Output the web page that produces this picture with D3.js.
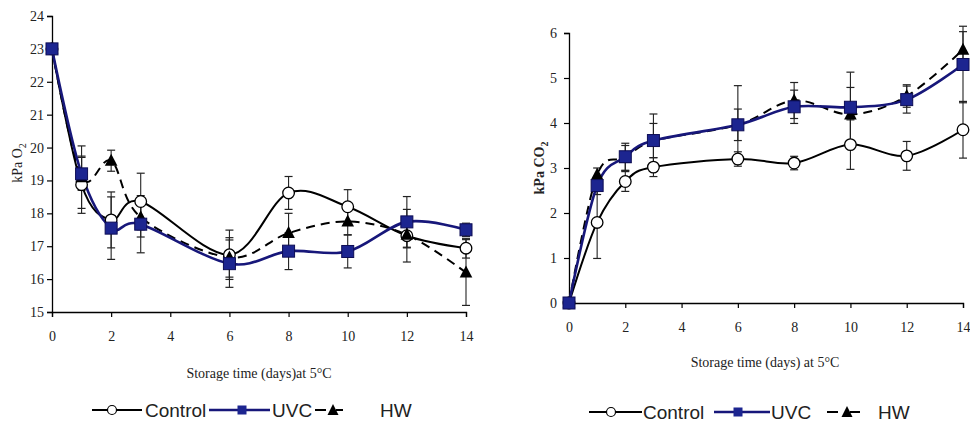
<!DOCTYPE html>
<html><head><meta charset="utf-8">
<script src="https://cdn.jsdelivr.net/npm/d3@7"></script>
<style>body{margin:0;background:#fff}svg{display:block}</style>
</head><body>
<svg id="c" width="970" height="425"></svg>
<script>
const days = [0, 1, 2, 3, 6, 8, 10, 12, 14];
const xTicks = [0, 2, 4, 6, 8, 10, 12, 14];
const o2Ticks = [15, 16, 17, 18, 19, 20, 21, 22, 23, 24];
const co2Ticks = [0, 1, 2, 3, 4, 5, 6];
const seriesNames = ["Control", "UVC", "HW"];

const o2Control = [23, 18.87, 17.8, 18.36, 16.74, 18.62, 18.2, 17.32, 16.94];
const o2ControlErr = [0, 0.87, 0.85, 0.86, 0.75, 0.5, 0.52, 0.8, 0.3];
const o2UVC = [23, 19.2, 17.55, 17.67, 16.47, 16.85, 16.84, 17.74, 17.5];
const o2UVCErr = [0, 0.5, 0.95, 0.87, 0.72, 0.56, 0.5, 0.77, 0.2];
const o2HW = [23, 19.1, 19.6, 17.88, 16.66, 17.4, 17.75, 17.35, 16.2];
const o2HWErr = [0, 0.95, 0.32, 0.6, 0.6, 0.6, 0.4, 0.4, 1.0];

const co2Control = [0, 1.79, 2.7, 3.02, 3.2, 3.11, 3.52, 3.27, 3.85];
const co2ControlErr = [0, 0.8, 0.22, 0.21, 0.16, 0.15, 0.55, 0.32, 0.63];
const co2UVC = [0, 2.61, 3.25, 3.61, 3.96, 4.36, 4.35, 4.52, 5.3];
const co2UVCErr = [0, 0.2, 0.3, 0.38, 0.87, 0.37, 0.78, 0.3, 0.85];
const co2HW = [0, 2.85, 3.22, 3.6, 3.96, 4.5, 4.19, 4.6, 5.63];
const co2HWErr = [0, 0.15, 0.28, 0.6, 0.35, 0.4, 0.6, 0.25, 0.4];

const svg = d3.select("#c");
const NAVY = "#17177a";
const SQFILL = "#1c2590";
const serif = "'Liberation Serif','Times New Roman',serif";
const sans = "'Liberation Sans',Arial,sans-serif";

function panel(cfg) {
  const x = d3.scaleLinear().domain([0, 14]).range(cfg.xr);
  const y = d3.scaleLinear().domain(cfg.yd).range(cfg.yr);
  const g = svg.append("g");

  const ya = g.append("g").attr("transform", `translate(${cfg.xr[0]},0)`)
    .call(d3.axisLeft(y).tickValues(cfg.yTicks).tickSize(5).tickPadding(cfg.yPad).tickFormat(d3.format("d")));
  const xa = g.append("g").attr("transform", `translate(0,${cfg.yr[0]})`)
    .call(d3.axisBottom(x).tickValues(xTicks).tickSize(5).tickPadding(cfg.xPad).tickFormat(d3.format("d")));
  [ya, xa].forEach(a => {
    a.select(".domain").attr("stroke", "#000").attr("stroke-width", 1.3);
    a.selectAll(".tick line").attr("stroke", "#000").attr("stroke-width", 1.2);
    a.selectAll("text").attr("font-family", serif).attr("font-size", 14).attr("fill", "#222");
  });

  const yl = g.append("text").attr("transform", `translate(${cfg.ylx},${cfg.yly}) rotate(-90)`)
    .attr("text-anchor", "middle").attr("font-family", serif).attr("font-size", 14)
    .attr("font-weight", cfg.ylBold ? "bold" : "normal").attr("fill", "#222");
  yl.append("tspan").text(cfg.ylab);
  yl.append("tspan").attr("dy", 4).attr("font-size", 10).text("2");

  g.append("text").attr("x", cfg.xlx).attr("y", cfg.xly).attr("text-anchor", "middle")
    .attr("font-family", serif).attr("font-size", 14).attr("fill", "#222").text(cfg.xlab);

  const series = [
    {name: "Control", v: cfg.data[0], e: cfg.err[0], color: "#000", w: 2, dash: null},
    {name: "HW", v: cfg.data[2], e: cfg.err[2], color: "#000", w: 2, dash: "9,6"},
    {name: "UVC", v: cfg.data[1], e: cfg.err[1], color: NAVY, w: 2.6, dash: null}
  ];

  series.forEach(s => {
    const eb = g.append("g");
    days.forEach((d, i) => {
      if (!s.e[i]) return;
      const xx = x(d), y1 = y(s.v[i] + s.e[i]), y2 = y(s.v[i] - s.e[i]);
      eb.append("line").attr("x1", xx).attr("x2", xx).attr("y1", y1).attr("y2", y2)
        .attr("stroke", "#222").attr("stroke-width", 1.1);
      [y1, y2].forEach(yy => eb.append("line").attr("x1", xx - 4).attr("x2", xx + 4)
        .attr("y1", yy).attr("y2", yy).attr("stroke", "#222").attr("stroke-width", 1.2));
    });
  });

  const line = d3.line().x((d, i) => x(days[i])).y(d => y(d)).curve(d3.curveCardinal.tension(0));
  series.forEach(s => {
    g.append("path").attr("d", line(s.v)).attr("fill", "none").attr("stroke", s.color)
      .attr("stroke-width", s.w).attr("stroke-dasharray", s.dash);
  });

  series.forEach(s => {
    days.forEach((d, i) => {
      const xx = x(d), yy = y(s.v[i]);
      if (s.name === "Control") {
        g.append("circle").attr("cx", xx).attr("cy", yy).attr("r", 5.8)
          .attr("fill", "#fff").attr("stroke", "#000").attr("stroke-width", 1.3);
      } else if (s.name === "HW") {
        g.append("path").attr("transform", `translate(${xx},${yy})`)
          .attr("d", "M0,-7L6.3,5L-6.3,5Z").attr("fill", "#000");
      } else {
        g.append("rect").attr("x", xx - 6).attr("y", yy - 6).attr("width", 12).attr("height", 12)
          .attr("fill", SQFILL).attr("stroke", "#0d0d55").attr("stroke-width", 1);
      }
    });
  });

  const L = cfg.leg, ly = cfg.legY;
  const lg = g.append("g");
  lg.append("line").attr("x1", L.c[0]).attr("x2", L.c[1]).attr("y1", ly).attr("y2", ly).attr("stroke", "#000").attr("stroke-width", 2.2);
  lg.append("circle").attr("cx", L.c[2]).attr("cy", ly).attr("r", 4.5).attr("fill", "#fff").attr("stroke", "#000").attr("stroke-width", 1.2);
  lg.append("line").attr("x1", L.u[0]).attr("x2", L.u[1]).attr("y1", ly).attr("y2", ly).attr("stroke", NAVY).attr("stroke-width", 2.4);
  lg.append("rect").attr("x", L.u[2] - 4.5).attr("y", ly - 4.5).attr("width", 9).attr("height", 9).attr("fill", SQFILL);
  lg.append("line").attr("x1", L.h[0]).attr("x2", L.h[0] + 11).attr("y1", ly).attr("y2", ly).attr("stroke", "#000").attr("stroke-width", 2);
  lg.append("line").attr("x1", L.h[2] + 3).attr("x2", L.h[1]).attr("y1", ly).attr("y2", ly).attr("stroke", "#000").attr("stroke-width", 2);
  lg.append("path").attr("transform", `translate(${L.h[2]},${ly})`).attr("d", "M0,-6L5.5,5L-5.5,5Z").attr("fill", "#000");
  [["Control", L.t[0]], ["UVC", L.t[1]], ["HW", L.t[2]]].forEach(([t, tx]) =>
    lg.append("text").attr("x", tx).attr("y", ly + 7).attr("font-family", sans).attr("font-size", 19)
      .attr("fill", "#222").text(t));
}

panel({
  xr: [52, 466], yd: [15, 24], yr: [312, 16], yTicks: o2Ticks, yPad: 3, xPad: 14,
  ylab: "kPa O", ylx: 22, yly: 163, ylBold: false,
  xlab: "Storage time (days)at 5°C", xlx: 259, xly: 378,
  data: [o2Control, o2UVC, o2HW], err: [o2ControlErr, o2UVCErr, o2HWErr],
  legY: 410, leg: {c: [92, 142, 112], u: [209, 270, 242], h: [315, 343, 333], t: [145, 272, 380]}
});
panel({
  xr: [569, 963], yd: [0, 6], yr: [303, 33], yTicks: co2Ticks, yPad: 7, xPad: 14,
  ylab: "kPa CO", ylx: 544, yly: 168, ylBold: true,
  xlab: "Storage time (days) at 5°C", xlx: 765, xly: 367,
  data: [co2Control, co2UVC, co2HW], err: [co2ControlErr, co2UVCErr, co2HWErr],
  legY: 412, leg: {c: [589, 642, 611], u: [714, 770, 738], h: [827, 860, 847], t: [643, 771, 878]}
});
</script>
</body></html>
